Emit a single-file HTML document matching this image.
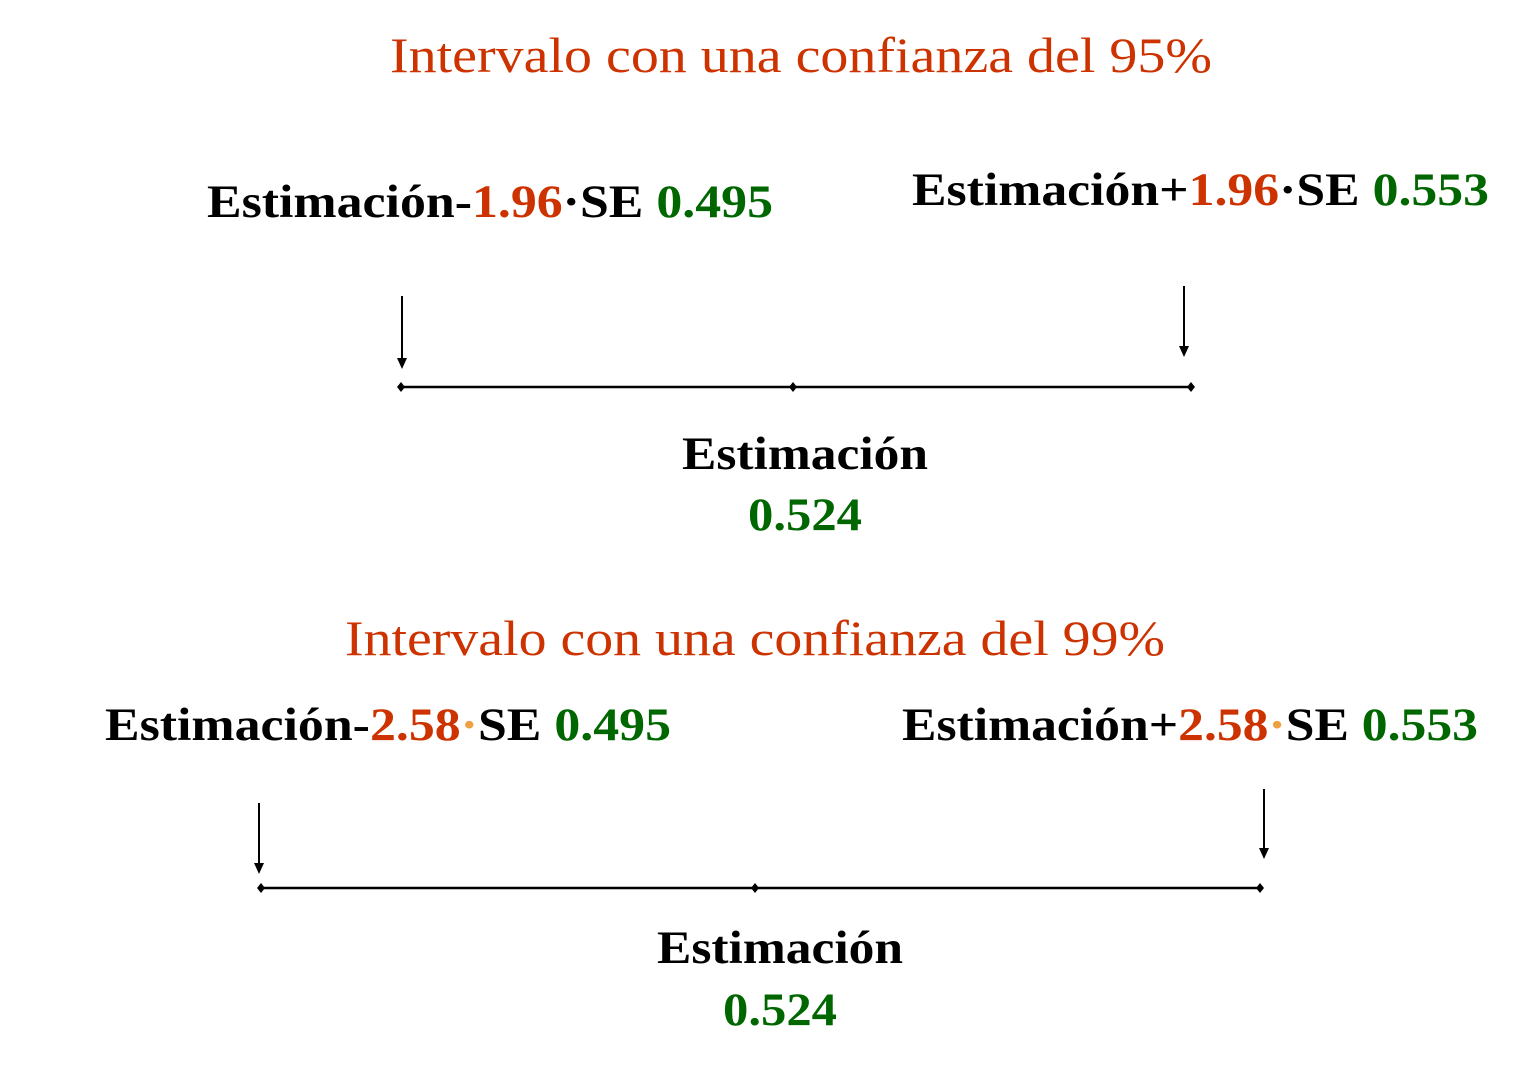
<!DOCTYPE html>
<html><head><meta charset="utf-8">
<style>
html,body{margin:0;padding:0;background:#fff;}
svg{display:block;}
text{font-family:"Liberation Serif",serif;}
.t{fill:#cc3300;font-size:50px;}
.b{font-weight:bold;font-size:47px;fill:#000;}
.r{fill:#cc3300;}
.g{fill:#006600;}
.o{fill:#f0a040;}
</style></head>
<body>
<svg width="1524" height="1070" viewBox="0 0 1524 1070">

<text class="t" x="390" y="72" textLength="822" lengthAdjust="spacingAndGlyphs">Intervalo con una confianza del 95%</text>

<text class="b" x="207" y="217" textLength="566" lengthAdjust="spacingAndGlyphs">Estimación-<tspan class="r">1.96</tspan>·SE <tspan class="g">0.495</tspan></text>
<text class="b" x="912" y="205" textLength="577" lengthAdjust="spacingAndGlyphs">Estimación+<tspan class="r">1.96</tspan>·SE <tspan class="g">0.553</tspan></text>

<g>
<line x1="402" y1="296" x2="402" y2="360" stroke="#000" stroke-width="2"/>
<path d="M397,358 L407,358 L402,369 Z" fill="#000"/>
</g>
<g>
<line x1="1184" y1="286" x2="1184" y2="348" stroke="#000" stroke-width="2"/>
<path d="M1179,346 L1189,346 L1184,357 Z" fill="#000"/>
</g>

<g>
<line x1="401" y1="387" x2="1191" y2="387" stroke="#000" stroke-width="2.5"/>
<path d="M401,382 L405,387 L401,392 L397,387Z M793,382 L797,387 L793,392 L789,387Z M1191,382 L1195,387 L1191,392 L1187,387Z" fill="#000"/>
</g>

<text class="b" x="682" y="469" textLength="246" lengthAdjust="spacingAndGlyphs">Estimación</text>
<text class="b g" x="748" y="530" textLength="114" lengthAdjust="spacingAndGlyphs">0.524</text>

<text class="t" x="345" y="655" textLength="820" lengthAdjust="spacingAndGlyphs">Intervalo con una confianza del 99%</text>

<text class="b" x="105" y="740" textLength="566" lengthAdjust="spacingAndGlyphs">Estimación-<tspan class="r">2.58</tspan><tspan class="o">·</tspan>SE <tspan class="g">0.495</tspan></text>
<text class="b" x="902" y="740" textLength="576" lengthAdjust="spacingAndGlyphs">Estimación+<tspan class="r">2.58</tspan><tspan class="o">·</tspan>SE <tspan class="g">0.553</tspan></text>

<g>
<line x1="259" y1="803" x2="259" y2="865" stroke="#000" stroke-width="2"/>
<path d="M254,863 L264,863 L259,874 Z" fill="#000"/>
</g>
<g>
<line x1="1264" y1="789" x2="1264" y2="850" stroke="#000" stroke-width="2"/>
<path d="M1259,848 L1269,848 L1264,859 Z" fill="#000"/>
</g>

<g>
<line x1="261" y1="888" x2="1260" y2="888" stroke="#000" stroke-width="2.5"/>
<path d="M261,883 L265,888 L261,893 L257,888Z M755,883 L759,888 L755,893 L751,888Z M1260,883 L1264,888 L1260,893 L1256,888Z" fill="#000"/>
</g>

<text class="b" x="657" y="963" textLength="246" lengthAdjust="spacingAndGlyphs">Estimación</text>
<text class="b g" x="723" y="1025" textLength="114" lengthAdjust="spacingAndGlyphs">0.524</text>
</svg>
</body></html>
